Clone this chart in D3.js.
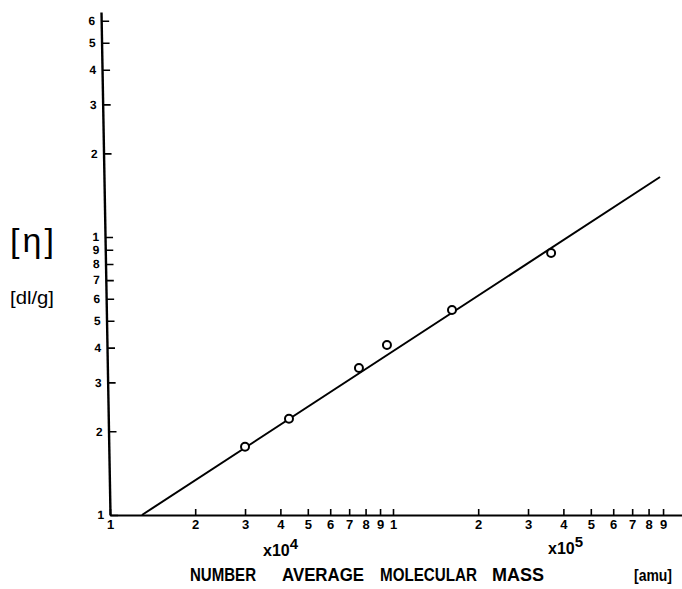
<!DOCTYPE html>
<html>
<head>
<meta charset="utf-8">
<script src="https://cdn.jsdelivr.net/npm/d3@7"></script>
<style>
  body { margin: 0; background: #fff; }
  text { font-family: 'Liberation Sans', Arial, sans-serif; fill: #000; }
</style>
</head>
<body>
<div id="chart"></div>
<script>
// tick positions and their printed labels
const xTicks = [1e4, 2e4, 3e4, 4e4, 5e4, 6e4, 7e4, 8e4, 9e4,
                1e5, 2e5, 3e5, 4e5, 5e5, 6e5, 7e5, 8e5, 9e5];
const xTickLabels = ['1', '2', '3', '4', '5', '6', '7', '8', '9',
                     '1', '2', '3', '4', '5', '6', '7', '8', '9'];
const yTicks = [0.1, 0.2, 0.3, 0.4, 0.5, 0.6, 0.7, 0.8, 0.9, 1, 2, 3, 4, 5, 6];
const yTickLabels = ['1', '2', '3', '4', '5', '6', '7', '8', '9', '1', '2', '3', '4', '5', '6'];

// measured points: molecular mass (amu) vs intrinsic viscosity (dl/g)
const molMass = [3.0e4, 4.29e4, 7.58e4, 9.52e4, 1.616e5, 3.62e5];
const viscosity = [0.176, 0.222, 0.338, 0.409, 0.546, 0.876];

// fitted straight line (end points)
const fitMass = [1.297e4, 8.78e5];
const fitVisc = [0.1, 1.644];

const W = 682, H = 589;

const svg = d3.select('#chart')
  .append('svg')
    .attr('width', W)
    .attr('height', H);

const x = d3.scaleLog()
  .domain([1e4, 1.05e6])
  .range([110, 682]);

const y = d3.scaleLog()
  .domain([0.1, 6.45])
  .range([515, 12]);

// x axis, ticks pointing up
const gx = svg.append('g')
  .attr('transform', 'translate(0,' + y(0.1) + ')')
  .call(d3.axisBottom(x)
    .tickValues(xTicks)
    .tickFormat((d, i) => xTickLabels[i])
    .tickSizeInner(-6)
    .tickSizeOuter(0)
    .tickPadding(5));
gx.select('.domain').attr('stroke-width', 2.2);
gx.selectAll('.tick line').attr('stroke-width', 1.6);
gx.selectAll('.tick text')
  .attr('font-size', 13)
  .attr('font-weight', 'bold')
  .attr('font-family', "'Liberation Sans', Arial, sans-serif");

// y axis, ticks pointing right, slightly leaning like the scan
const lean = 9 / 503;
const gy = svg.append('g')
  .attr('transform', 'translate(' + (110 - 515 * lean) + ',0) skewX(' + (Math.atan(lean) * 180 / Math.PI) + ')')
  .call(d3.axisLeft(y)
    .tickValues(yTicks)
    .tickFormat((d, i) => yTickLabels[i])
    .tickSizeInner(-8)
    .tickSizeOuter(0)
    .tickPadding(6));
gy.select('.domain').attr('stroke-width', 2.4);
gy.selectAll('.tick line').attr('stroke-width', 1.6);
gy.selectAll('.tick text')
  .attr('font-size', 12)
  .attr('font-weight', 'bold')
  .attr('font-family', "'Liberation Sans', Arial, sans-serif");

// fitted line
svg.append('path')
  .datum(d3.zip(fitMass, fitVisc))
  .attr('fill', 'none')
  .attr('stroke', '#000')
  .attr('stroke-width', 2)
  .attr('d', d3.line()
    .x((d) => x(d[0]))
    .y((d) => y(d[1])));

// measured points
svg.selectAll('circle.pt')
  .data(d3.zip(molMass, viscosity))
  .enter().append('circle')
    .attr('class', 'pt')
    .attr('cx', (d) => x(d[0]))
    .attr('cy', (d) => y(d[1]))
    .attr('r', 4)
    .attr('fill', '#fff')
    .attr('stroke', '#000')
    .attr('stroke-width', 2);

// exponent markers under the x axis
function power(px, py, exp) {
  const t = svg.append('text')
    .attr('x', px)
    .attr('y', py)
    .attr('font-size', 16)
    .attr('font-weight', 'bold');
  t.append('tspan').text('x10');
  t.append('tspan').attr('dy', -7).attr('font-size', 15).text(exp);
}
power(263, 556, '4');
power(548, 554, '5');

// x axis title, word by word as spaced in the print
const words = [['NUMBER', 190, 66], ['AVERAGE', 282, 82], ['MOLECULAR', 380, 97], ['MASS', 492, 52]];
words.forEach((w) => {
  svg.append('text')
    .attr('x', w[1])
    .attr('y', 581)
    .attr('font-size', 18)
    .attr('font-weight', 'bold')
    .attr('textLength', w[2])
    .attr('lengthAdjust', 'spacingAndGlyphs')
    .text(w[0]);
});
svg.append('text')
  .attr('x', 634)
  .attr('y', 581)
  .attr('font-size', 16)
  .attr('font-weight', 'bold')
  .attr('textLength', 38)
  .attr('lengthAdjust', 'spacingAndGlyphs')
  .text('[amu]');

// y axis title
svg.append('text')
  .attr('x', 10)
  .attr('y', 252)
  .attr('font-size', 34)
  .attr('font-family', "'DejaVu Sans', sans-serif")
  .attr('textLength', 44)
  .attr('lengthAdjust', 'spacing')
  .text('[η]');
svg.append('text')
  .attr('x', 10)
  .attr('y', 304)
  .attr('font-size', 18)
  .attr('textLength', 44)
  .attr('lengthAdjust', 'spacingAndGlyphs')
  .text('[dl/g]');
</script>
</body>
</html>
